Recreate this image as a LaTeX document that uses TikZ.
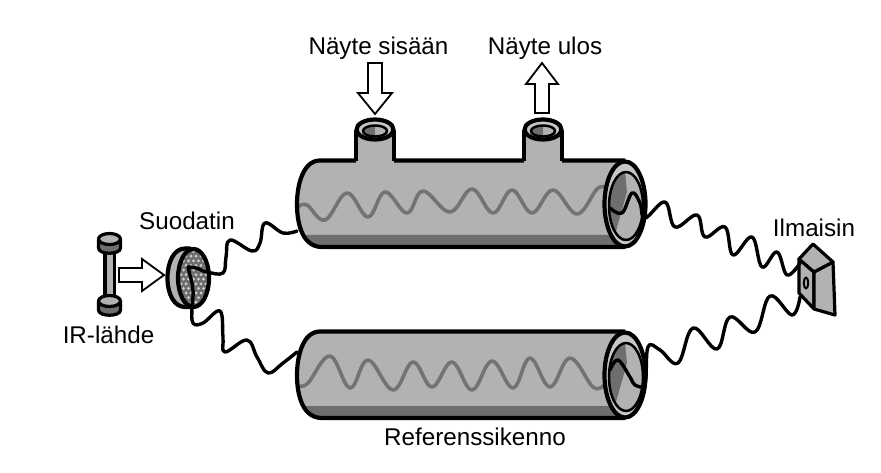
\documentclass[tikz,border=0pt]{standalone}
\usepackage{fontspec}
\setmainfont{Liberation Sans}
\definecolor{bodygrey}{gray}{0.70}
\definecolor{darkgrey}{gray}{0.43}
\definecolor{lightgrey}{gray}{0.78}
\definecolor{wavegrey}{gray}{0.45}
\tikzset{
  label text/.style={inner sep=0pt,font=\fontsize{24.2}{27}\selectfont},
  thick outline/.style={draw=black,line width=4.2pt,line join=round},
  thin outline/.style={draw=black,line width=2.5pt,line join=round},
  beam/.style={draw=black,line width=3.4pt,line cap=round,line join=round},
  inner beam/.style={draw=wavegrey,line width=3.6pt,line cap=round,line join=round},
  hollow arrow/.style={draw=black,fill=white,line width=1.8pt,line join=miter}
}
\newcommand{\cellbody}{%
  \fill[bodygrey] (625,160) -- (320,160) .. controls (303,160) and (297,185) .. (297,204)
     .. controls (297,225) and (303,247) .. (322,247) -- (625,247) -- cycle;
  \fill[darkgrey] (306,235) -- (625,235) -- (625,247) -- (322,247) .. controls (315,247) and (310,242) .. (306,235) -- cycle;
}
\newcommand{\cellline}{%
  \draw[thick outline] (625,160.5) -- (320,160.5) .. controls (303,160.5) and (297,185) .. (297,204)
     .. controls (297,225) and (303,247) .. (322,247) -- (625,247);
}
\newcommand{\cellend}{%
  \filldraw[thick outline,fill=lightgrey] (625,204) ellipse [x radius=20.5,y radius=42.5];
  \begin{scope}
    \clip (626,206) ellipse [x radius=17,y radius=34];
    \fill[bodygrey] (600,165) rectangle (650,245);
    \fill[darkgrey] (625,172) -- (627,192) -- (616,231) -- (600,231) -- (600,172) -- cycle;
  \end{scope}
  \draw[thin outline] (626,206) ellipse [x radius=17,y radius=34];
}
\newcommand{\porttube}[1]{%
  \begin{scope}[shift={(#1,0)}]
    \fill[bodygrey] (-19,130) rectangle (19,163);
    \draw[thick outline] (-19,130) -- (-19,161);
    \draw[thick outline] (19,130) -- (19,161);
    \filldraw[thick outline,fill=lightgrey] (0,129.5) ellipse [x radius=18.5,y radius=10];
    \begin{scope}
      \clip (0,131) ellipse [x radius=12,y radius=5.5];
      \fill[bodygrey] (-13,124) rectangle (13,138);
      \fill[darkgrey] (-13,124) rectangle (0,138);
    \end{scope}
    \draw[thin outline] (0,131) ellipse [x radius=12,y radius=5.5];
  \end{scope}
}
\newcommand{\ircap}[1]{%
  \begin{scope}[shift={(109.5,#1)}]
    \filldraw[thin outline,line width=3.2pt,fill=darkgrey] (-11,0) -- (-11,9) .. controls (-11,16) and (11,16) .. (11,9) -- (11,0) -- cycle;
    \filldraw[thin outline,line width=3.2pt,fill=bodygrey] (0,0) ellipse [x radius=11,y radius=5.5];
  \end{scope}
}
\begin{document}
\begin{tikzpicture}[x=1pt,y=-1pt]
\useasboundingbox (0,0) rectangle (881,473);

% top cell
\cellbody
\draw[inner beam] plot[smooth,tension=.65] coordinates {(298,207)(307,205)(325,220)(347,193)(368,217)(385,192)(407,213)(423,191)(450,212)(472,189)(493,213)(512,190)(532,213)(553,190)(577,214)(597,189)(606,188)};
\cellline
\porttube{375}
\porttube{543}
\cellend

% bottom cell
\begin{scope}[shift={(0,171)}]
  \cellbody
\end{scope}
\draw[inner beam] plot[smooth,tension=.65] coordinates {(298,386)(308,383)(330,356)(350,388)(368,360)(393,390)(413,362)(432,387)(452,362)(472,390)(492,361)(513,388)(530,358)(550,387)(570,358)(593,387)(604,385)};
\begin{scope}[shift={(0,171)}]
  \cellline
  \cellend
\end{scope}

% IR source
\fill[black] (103,248) rectangle (116,300);
\fill[bodygrey] (106.5,248) rectangle (112.5,298);
\ircap{239}
\ircap{301}

% filter
\filldraw[thick outline,fill=bodygrey] (190,248.5) -- (185,248.5) .. controls (174,248.5) and (167.5,262) .. (167.5,278) .. controls (167.5,294) and (174,307) .. (185,307) -- (190,307) -- cycle;
\begin{scope}
  \clip (193.5,278) ellipse [x radius=15.5,y radius=29];
  \fill[darkgrey] (170,245) rectangle (212,310);
  \foreach \i in {0,...,13}{
    \foreach \j in {0,...,9}{
      \fill[gray!35!white] ({176+\j*5+mod(\i,2)*2.5},{247+\i*4.6}) circle (1.5);
    }
  }
\end{scope}
\draw[thick outline] (193.5,278) ellipse [x radius=15.5,y radius=29];

% hollow arrows
\draw[hollow arrow] (368,63) -- (382,63) -- (382,93) -- (392,93) -- (375,114) -- (358,93) -- (368,93) -- cycle;
\draw[hollow arrow] (535,113) -- (549,113) -- (549,84) -- (558,84) -- (542,63) -- (526,84) -- (535,84) -- cycle;
\draw[hollow arrow] (119,268) -- (142,268) -- (142,259) -- (164,275) -- (142,291) -- (142,282) -- (119,282) -- cycle;

% detector
\filldraw[thick outline,fill=bodygrey,line width=3.2pt] (814,272) -- (799,259) -- (799,293) -- (814,309) -- cycle;
\filldraw[thick outline,fill=bodygrey,line width=3.2pt] (814,272) -- (833,262) -- (835,315) -- (814,309) -- cycle;
\filldraw[thick outline,fill=bodygrey,line width=3.2pt] (813,244) -- (833,262) -- (814,272) -- (799,259) -- cycle;
\draw[thin outline,line width=2pt] (806,283) ellipse [x radius=2.2,y radius=5.5];

% beams
\draw[beam] plot[smooth,tension=.65] coordinates {(188,267)(196,268)(207,272)(223,273)(226,257)(230,240)(252,251)(260,243)(265,223)(283,233)(297,231)};
\draw[beam] plot[smooth,tension=.65] coordinates {(188,267)(193,290)(192,307)(193,323)(203,323)(220,311)(223,337)(225,352)(247,340)(257,357)(268,373)(283,363)(297,352)};
\draw[beam] plot[smooth,tension=.65] coordinates {(610,208)(622,213)(632,193)(640,203)(645,218)(665,202)(675,227)(697,215)(705,237)(725,227)(733,255)(752,237)(762,267)(777,252)(787,275)(800,263)};
\draw[beam] plot[smooth,tension=.65] coordinates {(610,370)(618,360)(630,377)(635,385)(645,383)(648,347)(660,350)(678,363)(693,328)(717,349)(730,317)(755,332)(770,296)(792,315)(800,297)};

% labels
\node[label text] (sisaan) at (378.5,48) {Näyte sisään};
\node[label text] (ulos) at (545,48) {Näyte ulos};
\node[label text] (suodatin) at (187,221) {Suodatin};
\node[label text] (lahde) at (108.5,335) {IR-lähde};
\node[label text] (ilmaisin) at (814,228) {Ilmaisin};
\node[label text] (referenssi) at (475,437) {Referenssikenno};
\end{tikzpicture}
\end{document}
